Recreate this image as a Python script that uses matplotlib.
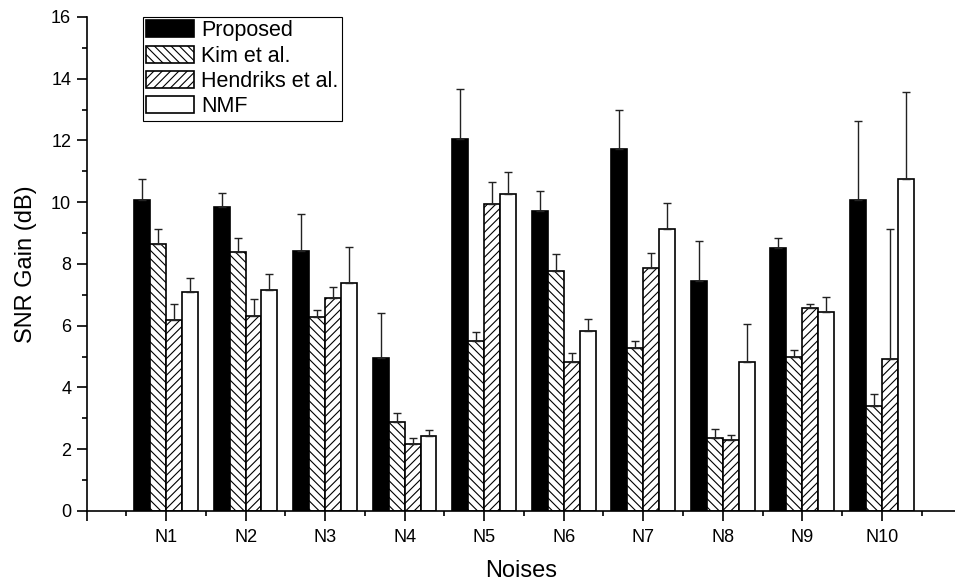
import numpy as np
import matplotlib
matplotlib.use("Agg")
import matplotlib.pyplot as plt
from matplotlib.ticker import MultipleLocator

plt.rcParams['font.family'] = ['Liberation Sans', 'DejaVu Sans']
plt.rcParams['hatch.linewidth'] = 0.8

noises = ["N1", "N2", "N3", "N4", "N5", "N6", "N7", "N8", "N9", "N10"]
methods = ["Proposed", "Kim et al.", "Hendriks et al.", "NMF"]

# mean SNR gain (dB)
proposed = [10.07, 9.86, 8.43, 4.97, 12.05, 9.73, 11.73, 7.45, 8.53, 10.07]
kim = [8.64, 8.38, 6.27, 2.88, 5.51, 7.78, 5.27, 2.38, 4.98, 3.39]
hendriks = [6.20, 6.32, 6.89, 2.18, 9.93, 4.82, 7.86, 2.29, 6.56, 4.91]
nmf = [7.09, 7.16, 7.38, 2.43, 10.28, 5.84, 9.13, 4.81, 6.46, 10.74]

# upper error (std)
proposed_err = [0.67, 0.43, 1.18, 1.44, 1.62, 0.64, 1.26, 1.31, 0.32, 2.55]
kim_err = [0.49, 0.45, 0.24, 0.28, 0.28, 0.55, 0.25, 0.28, 0.23, 0.40]
hendriks_err = [0.51, 0.55, 0.38, 0.20, 0.73, 0.29, 0.51, 0.16, 0.15, 4.22]
nmf_err = [0.45, 0.52, 1.18, 0.18, 0.69, 0.39, 0.86, 1.25, 0.48, 2.82]

values = [proposed, kim, hendriks, nmf]
errors = [proposed_err, kim_err, hendriks_err, nmf_err]
colors = ["black", "white", "white", "white"]
hatches = [None, "\\\\\\\\", "////", None]

fig = plt.figure(figsize=(9.55, 5.86), dpi=100)
ax = fig.add_axes([0.0906, 0.128, 0.9094, 0.843])

x = np.arange(1, len(noises) + 1)
width = 0.2
for i in range(4):
    offs = (i - 1.5) * width
    ax.bar(x + offs, values[i], width, color=colors[i], edgecolor="black",
           linewidth=1.2, hatch=hatches[i], label=methods[i],
           yerr=[np.zeros(len(noises)), errors[i]],
           error_kw=dict(ecolor="#222222", elinewidth=1.0, capsize=3, capthick=1.0))

ax.set_xlim(0, 10.92)
ax.set_ylim(0, 16)
ax.set_xticks(np.arange(0, 11))
ax.set_xticklabels([""] + noises)
ax.xaxis.set_minor_locator(MultipleLocator(0.5))
ax.yaxis.set_major_locator(MultipleLocator(2))
ax.yaxis.set_minor_locator(MultipleLocator(1))
ax.tick_params(axis="both", which="major", direction="out", length=7, width=1.2, labelsize=13)
ax.tick_params(axis="both", which="minor", direction="out", length=3.6, width=1.2)
ax.tick_params(axis="x", which="major", pad=6)
ax.tick_params(axis="y", which="major", pad=4)
ax.spines["top"].set_visible(False)
ax.spines["right"].set_visible(False)
ax.spines["left"].set_linewidth(1.2)
ax.spines["bottom"].set_linewidth(1.2)

ax.set_ylabel("SNR Gain (dB)", fontsize=17, labelpad=10)
ax.set_xlabel("Noises", fontsize=17, labelpad=10)

leg = ax.legend(loc="upper left", bbox_to_anchor=(143 / 955, 1 - 17 / 586),
                bbox_transform=fig.transFigure, borderaxespad=0, fontsize=15.5,
                fancybox=False, framealpha=1, edgecolor="black",
                handlelength=2.2, handleheight=0.85, labelspacing=0.2,
                handletextpad=0.35, borderpad=0.15)
leg.get_frame().set_linewidth(0.8)

fig.savefig("out.png", dpi=100)
